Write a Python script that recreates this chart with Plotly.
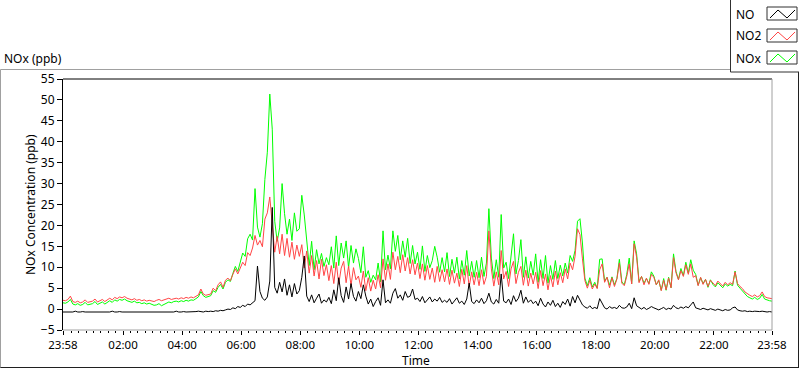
import pandas as pd
import plotly.graph_objects as go

# ---------------- data (5-minute readings, 23:58 -> 23:58) ----------------
START = "2024-01-01 23:58"
N_POINTS = 289

NO_ppb = [
    -0.7, -0.7, -0.6, -0.7, -0.7, -0.5, -0.7, -0.7, -0.6, -0.7, -0.7, -0.7,
    -0.7, -0.6, -0.7, -0.7, -0.7, -0.6, -0.7, -0.7, -0.5, -0.7, -0.7, -0.6,
    -0.7, -0.7, -0.6, -0.7, -0.7, -0.7, -0.6, -0.7, -0.7, -0.7, -0.7, -0.6,
    -0.7, -0.7, -0.6, -0.7, -0.7, -0.7, -0.7, -0.6, -0.7, -0.7, -0.5, -0.7,
    -0.7, -0.6, -0.7, -0.7, -0.6, -0.7, -0.6, -0.5, -0.6, -0.7, -0.5, -0.6,
    -0.5, -0.6, -0.4, -0.5, -0.3, -0.4, -0.2, 0.0, -0.1, 0.3, 0.1, 0.6,
    0.4, 0.9, 0.6, 1.2, 1.0, 1.6, 2.0, 10.3, 4.2, 2.6, 2.1, 2.9,
    6.7, 24.3, 5.2, 3.8, 6.4, 4.1, 7.2, 3.3, 5.8, 2.9, 6.1, 3.6,
    4.4, 7.6, 12.7, 3.1, 1.8, 3.4, 1.5, 2.6, 3.6, 1.4, 2.2, 1.7,
    2.8, 1.3, 4.6, 2.0, 7.5, 3.2, 1.6, 5.3, 2.4, 6.1, 3.0, 1.9,
    4.2, 2.5, 5.8, 3.1, 1.2, 2.4, 0.6, 1.8, 2.7, 0.9, 7.0, 1.5,
    2.2, 1.4, 3.8, 4.9, 2.6, 3.4, 2.1, 4.2, 2.8, 3.1, 4.8, 2.3,
    2.6, 1.8, 3.0, 1.5, 2.2, 2.9, 1.7, 2.4, 1.9, 2.8, 1.6, 2.1,
    1.6, 2.5, 1.2, 2.1, 2.7, 1.4, 1.9, 1.1, 2.4, 6.2, 1.8, 1.3,
    2.2, 1.5, 2.6, 1.3, 2.0, 3.8, 1.7, 1.2, 2.3, 1.4, 8.4, 1.9,
    1.5, 2.4, 1.1, 3.2, 1.8, 2.6, 4.5, 1.4, 2.9, 1.6, 2.2, 1.3,
    1.9, 0.8, 2.6, 1.2, 0.5, 1.7, 0.9, 2.1, 0.6, 1.4, 0.4, 1.8,
    1.1, 2.4, 0.7, 3.0, 1.5, 3.3, 2.2, 1.0, 0.5, 0.2, 0.8, 0.1,
    0.4, 0.1, 2.5, 1.2, 0.3, 0.0, 0.6, 0.2, 0.4, 0.1, 0.9, 0.3,
    0.2, 0.5, 1.4, 0.1, 2.7, 0.8, 0.3, 0.0, 0.4, -0.1, 0.2, 0.6,
    0.3, 0.0, -0.2, 0.1, 0.4, -0.1, 0.2, 0.0, 0.9, 0.3, 0.1, 0.5,
    0.2, 0.6, 0.3, 1.0, 1.7, 0.3, 0.1, -0.1, 0.2, 0.0, -0.2, 0.1,
    -0.1, -0.3, 0.0, -0.2, -0.4, -0.1, -0.3, -0.2, 0.3, 0.5, -0.2, -0.4,
    -0.5, -0.4, -0.6, -0.5, -0.6, -0.5, -0.6, -0.6, -0.5, -0.6, -0.7, -0.6,
    -0.7,
]

NO2_ppb = [
    2.1, 2.0, 2.3, 3.1, 1.8, 1.6, 1.9, 1.5, 1.7, 2.2, 1.6, 1.8,
    1.9, 2.4, 1.7, 2.0, 2.3, 1.8, 2.1, 2.6, 2.2, 2.8, 2.5, 2.9,
    2.7, 3.0, 2.6, 2.4, 2.2, 2.5, 2.1, 2.3, 2.0, 2.2, 1.9, 2.1,
    2.0, 1.8, 2.1, 2.3, 2.0, 2.2, 2.4, 2.6, 2.3, 2.5, 2.6, 2.4,
    2.7, 2.5, 2.8, 2.6, 2.9, 2.7, 3.0, 3.4, 4.8, 3.6, 3.3, 3.4,
    3.6, 5.0, 4.4, 5.8, 6.5, 5.2, 6.9, 7.4, 6.8, 8.3, 9.6, 8.4,
    9.8, 11.2, 10.4, 13.5, 12.8, 14.6, 17.6, 15.3, 16.4, 14.9, 21.5, 23.0,
    26.8, 19.5, 13.6, 17.4, 13.2, 17.9, 12.8, 16.9, 12.4, 16.0, 11.9, 15.3,
    12.6, 15.4, 9.8, 13.9, 8.6, 12.8, 7.9, 11.6, 7.2, 11.9, 8.0, 10.6,
    6.8, 10.4, 6.1, 11.2, 5.9, 9.8, 11.4, 6.3, 10.3, 5.6, 9.9, 7.0,
    7.9, 5.2, 9.1, 4.4, 7.5, 4.3, 6.9, 4.8, 8.2, 5.1, 12.0, 6.9,
    10.8, 7.1, 13.6, 9.4, 12.6, 8.7, 13.0, 9.1, 12.3, 8.4, 11.8, 8.2,
    11.0, 7.3, 10.8, 6.9, 10.4, 7.1, 9.8, 6.4, 10.2, 6.6, 9.4, 6.5,
    9.6, 5.9, 9.3, 6.2, 8.6, 5.4, 9.5, 6.0, 10.4, 5.3, 8.9, 5.8,
    8.8, 5.6, 9.4, 5.9, 7.8, 18.7, 9.6, 5.5, 8.9, 5.8, 14.0, 7.2,
    9.0, 5.4, 9.6, 11.4, 6.1, 8.8, 10.2, 5.7, 9.3, 5.5, 8.6, 6.0,
    8.8, 4.9, 9.2, 5.6, 8.4, 4.6, 8.0, 5.3, 9.1, 5.8, 8.7, 6.3,
    9.6, 7.2, 11.0, 9.4, 12.6, 19.2, 17.8, 12.0, 6.8, 5.0, 6.9, 4.8,
    6.0, 4.9, 9.4, 10.8, 6.4, 7.6, 5.1, 7.5, 5.4, 7.2, 11.0, 6.2,
    5.6, 7.8, 10.8, 6.0, 15.6, 12.4, 6.3, 7.8, 5.8, 7.4, 5.9, 8.3,
    7.6, 5.8, 7.0, 4.4, 6.9, 4.6, 7.4, 5.1, 12.3, 8.7, 7.0, 9.2,
    7.8, 10.6, 8.3, 10.8, 7.6, 8.0, 5.6, 7.6, 5.9, 7.1, 5.4, 6.9,
    6.2, 5.6, 6.7, 6.0, 5.5, 6.4, 5.8, 6.3, 5.9, 8.9, 6.1, 5.4,
    4.9, 4.1, 3.6, 3.3, 3.0, 3.4, 2.9, 3.2, 4.1, 3.0, 2.7, 2.6,
    2.5,
]

NOx_ppb = [
    1.5, 1.4, 1.7, 2.3, 1.2, 1.0, 1.3, 0.9, 1.1, 1.6, 1.0, 1.2,
    1.3, 1.8, 1.1, 1.4, 1.7, 1.2, 1.5, 2.0, 1.6, 2.2, 1.9, 2.3,
    2.1, 2.4, 2.0, 1.8, 1.6, 1.9, 1.5, 1.6, 1.3, 1.5, 1.2, 1.4,
    1.2, 0.9, 1.0, 1.3, 0.8, 1.1, 1.4, 1.7, 1.5, 1.8, 1.9, 1.7,
    2.0, 1.8, 2.1, 1.9, 2.2, 2.1, 2.5, 2.9, 4.2, 3.2, 2.8, 3.0,
    3.2, 4.4, 4.0, 5.2, 5.9, 4.8, 6.4, 7.0, 6.6, 8.5, 10.2, 9.0,
    11.0, 13.4, 12.6, 16.8, 17.9, 16.5, 28.8, 19.6, 17.2, 20.4, 31.0, 37.5,
    51.4, 43.0, 21.0, 16.2, 19.4, 30.0, 22.8, 17.9, 21.5, 16.4, 23.0, 18.6,
    19.2, 27.2, 22.5, 17.0, 10.4, 16.2, 9.4, 14.2, 10.8, 13.3, 10.2, 12.3,
    10.6, 14.9, 9.8, 17.5, 10.4, 15.8, 12.2, 16.3, 9.9, 15.2, 11.0, 14.4,
    12.1, 8.7, 14.9, 7.6, 9.2, 6.4, 8.1, 7.0, 11.0, 6.5, 18.7, 9.4,
    12.9, 9.6, 18.7, 13.8, 17.6, 11.8, 16.3, 12.4, 16.9, 10.9, 15.2, 10.8,
    13.6, 9.5, 15.1, 9.0, 12.8, 9.9, 11.6, 15.0, 12.4, 8.8, 12.3, 8.9,
    13.5, 7.8, 11.9, 8.6, 12.4, 7.2, 11.6, 8.1, 14.0, 7.9, 11.4, 7.6,
    11.6, 7.5, 12.4, 7.8, 11.0, 24.0, 12.2, 7.3, 11.8, 7.6, 22.6, 9.8,
    11.2, 7.3, 12.9, 18.0, 8.4, 11.6, 16.6, 7.6, 12.5, 7.4, 11.4, 8.1,
    13.2, 6.4, 11.8, 7.3, 12.8, 6.2, 10.4, 7.1, 11.6, 7.3, 10.5, 7.9,
    11.0, 8.6, 12.8, 11.4, 14.0, 21.0, 21.6, 15.8, 7.4, 5.6, 7.5, 5.3,
    6.4, 5.0, 11.9, 12.0, 6.7, 7.6, 5.7, 7.7, 5.8, 7.3, 11.9, 6.5,
    5.8, 8.3, 12.2, 6.1, 16.3, 13.2, 6.6, 7.8, 6.2, 7.3, 6.1, 8.9,
    7.9, 5.8, 6.8, 4.5, 7.3, 4.5, 7.6, 5.1, 13.2, 9.0, 7.1, 9.7,
    8.0, 11.2, 8.6, 11.8, 9.3, 8.3, 5.7, 7.5, 6.1, 7.1, 5.2, 7.0,
    5.9, 5.3, 6.3, 5.6, 5.1, 6.0, 5.5, 5.9, 5.6, 9.1, 5.7, 5.0,
    4.3, 3.5, 3.0, 2.7, 2.4, 2.8, 2.3, 2.6, 3.5, 2.4, 2.1, 2.0,
    1.9,
]

TICK_TIMES = ["2024-01-01 23:58", "2024-01-02 02:00", "2024-01-02 04:00",
              "2024-01-02 06:00", "2024-01-02 08:00", "2024-01-02 10:00",
              "2024-01-02 12:00", "2024-01-02 14:00", "2024-01-02 16:00",
              "2024-01-02 18:00", "2024-01-02 20:00", "2024-01-02 22:00",
              "2024-01-02 23:58"]
TICK_LABELS = ["23:58", "02:00", "04:00", "06:00", "08:00", "10:00", "12:00",
               "14:00", "16:00", "18:00", "20:00", "22:00", "23:58"]

SERIES_NAMES = ["NO", "NO2", "NOx"]
SERIES_COLORS = ["#000000", "#ff4646", "#00ff00"]

# ---------------- figure ----------------
times = pd.date_range(START, periods=N_POINTS, freq="5min")
minor_ticks = pd.date_range("2024-01-02 00:00", "2024-01-02 23:45", freq="15min")

W, H = 800, 369
L, R, T, B = 63, 772, 79, 330   # plot area in pixels


def px(x):
    return (x - L) / (R - L)


def py(y):
    return (B - y) / (B - T)


FONT = "Noto Sans"
fig = go.Figure()

# draw order: NOx, NO2, NO (red over green, black on top)
for vals, name, col in [(NOx_ppb, SERIES_NAMES[2], SERIES_COLORS[2]),
                        (NO2_ppb, SERIES_NAMES[1], SERIES_COLORS[1]),
                        (NO_ppb, SERIES_NAMES[0], SERIES_COLORS[0])]:
    fig.add_trace(go.Scatter(x=times, y=vals, mode="lines", name=name,
                             line=dict(color=col, width=1), showlegend=False))

fig.update_layout(
    width=W, height=H,
    margin=dict(l=L, r=W - R, t=T, b=H - B, pad=0),
    paper_bgcolor="white", plot_bgcolor="white",
    font=dict(family=FONT, size=12, color="#000000"),
    xaxis=dict(
        type="date",
        range=[TICK_TIMES[0], TICK_TIMES[-1]],
        tickmode="array", tickvals=TICK_TIMES, ticktext=TICK_LABELS,
        ticks="outside", ticklen=4, tickcolor="black", tickwidth=1,
        showgrid=False, zeroline=False, showline=False,
        tickfont=dict(size=11.5),
        minor=dict(tickmode="array", tickvals=list(minor_ticks),
                   ticks="outside", ticklen=2, tickcolor="black", showgrid=False),
    ),
    yaxis=dict(
        range=[-5, 55], tickmode="linear", tick0=-5, dtick=5,
        ticks="outside", ticklen=5, tickcolor="black",
        showgrid=False, zeroline=False, showline=True, linecolor="black",
        linewidth=1, tickfont=dict(size=12),
    ),
)

shapes = []
# plot-area frame: dark top, light right/bottom
shapes.append(dict(type="line", xref="paper", yref="paper", x0=0, x1=1, y0=1, y1=1,
                   line=dict(color="black", width=1)))
shapes.append(dict(type="line", xref="paper", yref="paper", x0=1, x1=1, y0=0, y1=1,
                   line=dict(color="#a0a0a0", width=1)))
shapes.append(dict(type="line", xref="paper", yref="paper", x0=0, x1=1, y0=0, y1=0,
                   line=dict(color="#a0a0a0", width=1)))
# outer panel frame
shapes.append(dict(type="line", xref="paper", yref="paper", x0=px(0.5), x1=px(730),
                   y0=py(69.5), y1=py(69.5), line=dict(color="#a0a0a0", width=1)))
shapes.append(dict(type="line", xref="paper", yref="paper", x0=px(0.5), x1=px(0.5),
                   y0=py(69.5), y1=py(368), line=dict(color="#a0a0a0", width=1)))
shapes.append(dict(type="line", xref="paper", yref="paper", x0=px(0.5), x1=px(798.5),
                   y0=py(367.5), y1=py(367.5), line=dict(color="#202020", width=1)))
shapes.append(dict(type="line", xref="paper", yref="paper", x0=px(798.5), x1=px(798.5),
                   y0=py(72), y1=py(368), line=dict(color="#202020", width=1)))
# legend box
shapes.append(dict(type="line", xref="paper", yref="paper", x0=px(730.5), x1=px(730.5),
                   y0=py(0), y1=py(72), line=dict(color="#303030", width=1)))
shapes.append(dict(type="line", xref="paper", yref="paper", x0=px(730.5), x1=px(799),
                   y0=py(72), y1=py(72), line=dict(color="#303030", width=1)))

annotations = []
rows_y = [14, 36, 58]
for name, col, yc in zip(SERIES_NAMES, SERIES_COLORS, rows_y):
    annotations.append(dict(xref="paper", yref="paper", x=px(734), y=py(yc),
                            text=name, showarrow=False, xanchor="left", yanchor="middle",
                            font=dict(family=FONT, size=12, color="black")))
    x0, x1, y0, y1 = 767, 797, yc - 7, yc + 6
    shapes.append(dict(type="rect", xref="paper", yref="paper",
                       x0=px(x0), x1=px(x1), y0=py(y1), y1=py(y0),
                       line=dict(color="#303030", width=1), fillcolor="white"))
    pts = [(770, yc + 4), (778, yc - 4), (787, yc + 4), (795, yc - 4)]
    path = "M " + " L ".join(f"{px(a):.5f},{py(b):.5f}" for a, b in pts)
    shapes.append(dict(type="path", xref="paper", yref="paper", path=path,
                       line=dict(color=col, width=1)))

annotations.append(dict(xref="paper", yref="paper", x=px(2), y=py(58), text="NOx (ppb)",
                        showarrow=False, xanchor="left", yanchor="middle",
                        font=dict(family=FONT, size=12, color="black")))
annotations.append(dict(xref="paper", yref="paper", x=px(30), y=py(205),
                        text="NOx Concentration (ppb)", textangle=-90, showarrow=False,
                        xanchor="center", yanchor="middle",
                        font=dict(family=FONT, size=12, color="black")))
annotations.append(dict(xref="paper", yref="paper", x=px(416), y=py(360), text="Time",
                        showarrow=False, xanchor="center", yanchor="middle",
                        font=dict(family=FONT, size=12, color="black")))

fig.update_layout(shapes=shapes, annotations=annotations)
fig.write_html("out.html",
               config={"displayModeBar": False},
               post_script="document.body.style.margin='0';"
                           "document.body.style.overflow='hidden';")
